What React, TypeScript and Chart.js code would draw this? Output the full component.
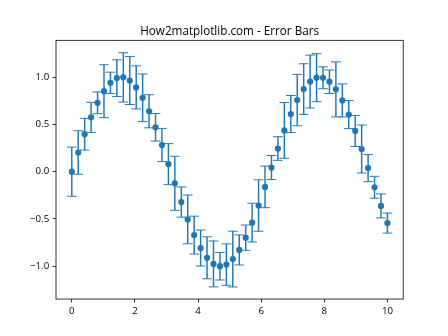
import React, { useEffect, useRef } from "react";
import { Chart, registerables } from "chart.js";

Chart.register(...registerables);

const titleText = "How2matplotlib.com - Error Bars";

const xValues = [
  0, 0.2041, 0.4082, 0.6122, 0.8163, 1.0204, 1.2245, 1.4286, 1.6327, 1.8367,
  2.0408, 2.2449, 2.449, 2.6531, 2.8571, 3.0612, 3.2653, 3.4694, 3.6735, 3.8776,
  4.0816, 4.2857, 4.4898, 4.6939, 4.898, 5.102, 5.3061, 5.5102, 5.7143, 5.9184,
  6.1224, 6.3265, 6.5306, 6.7347, 6.9388, 7.1429, 7.3469, 7.551, 7.7551, 7.9592,
  8.1633, 8.3673, 8.5714, 8.7755, 8.9796, 9.1837, 9.3878, 9.5918, 9.7959, 10,
];

const yValues = [
  0, 0.203, 0.397, 0.575, 0.729, 0.852, 0.94, 0.99, 0.998, 0.965,
  0.892, 0.782, 0.639, 0.47, 0.282, 0.08, -0.123, -0.321, -0.505, -0.671,
  -0.808, -0.911, -0.976, -1.0, -0.983, -0.925, -0.828, -0.698, -0.539, -0.358,
  -0.161, 0.044, 0.245, 0.437, 0.61, 0.758, 0.874, 0.954, 0.995, 0.994,
  0.952, 0.871, 0.754, 0.604, 0.431, 0.24, 0.038, -0.165, -0.362, -0.544,
];

const yErrors = [
  0.26, 0.23, 0.168, 0.159, 0.115, 0.28, 0.113, 0.194, 0.261, 0.254,
  0.228, 0.252, 0.175, 0.146, 0.176, 0.217, 0.286, 0.16, 0.258, 0.2,
  0.19, 0.222, 0.243, 0.146, 0.219, 0.295, 0.159, 0.134, 0.205, 0.272,
  0.22, 0.127, 0.125, 0.295, 0.196, 0.272, 0.268, 0.28, 0.254, 0.116,
  0.125, 0.291, 0.175, 0.148, 0.164, 0.254, 0.143, 0.116, 0.127, 0.106,
];

const xTicks = [0, 2, 4, 6, 8, 10];
const yTicks = [-1.0, -0.5, 0.0, 0.5, 1.0];

const COLOR = "#1f77b4";
const FONT = '"Open Sans", "DejaVu Sans", sans-serif';

const errorBarPlugin = {
  id: "errorBars",
  beforeDatasetsDraw(chart: any) {
    const { ctx, chartArea, scales } = chart;
    const xs = scales.x;
    const ys = scales.y;
    ctx.save();
    ctx.beginPath();
    ctx.rect(chartArea.left, chartArea.top, chartArea.right - chartArea.left, chartArea.bottom - chartArea.top);
    ctx.clip();
    ctx.strokeStyle = COLOR;
    for (let i = 0; i < xValues.length; i++) {
      const px = xs.getPixelForValue(xValues[i]);
      const pTop = ys.getPixelForValue(yValues[i] + yErrors[i]);
      const pBot = ys.getPixelForValue(yValues[i] - yErrors[i]);
      ctx.lineWidth = 1.46;
      ctx.beginPath();
      ctx.moveTo(px, pTop);
      ctx.lineTo(px, pBot);
      ctx.stroke();
      ctx.lineWidth = 0.97;
      ctx.beginPath();
      ctx.moveTo(px - 4.86, pTop);
      ctx.lineTo(px + 4.86, pTop);
      ctx.moveTo(px - 4.86, pBot);
      ctx.lineTo(px + 4.86, pBot);
      ctx.stroke();
    }
    ctx.restore();
  },
  afterDraw(chart: any) {
    const { ctx, chartArea } = chart;
    ctx.save();
    ctx.strokeStyle = "#000";
    ctx.lineWidth = 0.8;
    ctx.strokeRect(chartArea.left, chartArea.top, chartArea.right - chartArea.left, chartArea.bottom - chartArea.top);
    ctx.fillStyle = "#000";
    ctx.font = `11.7px ${FONT}`;
    ctx.textAlign = "center";
    ctx.textBaseline = "alphabetic";
    ctx.fillText(titleText, (chartArea.left + chartArea.right) / 2, 34.5);
    ctx.restore();
  },
};

export default function App() {
  const canvasRef = useRef<HTMLCanvasElement | null>(null);

  useEffect(() => {
    const canvas = canvasRef.current;
    if (!canvas) return;
    const chart = new Chart(canvas, {
      type: "scatter",
      data: {
        datasets: [
          {
            data: xValues.map((x, i) => ({ x, y: yValues[i] })),
            backgroundColor: COLOR,
            borderColor: COLOR,
            borderWidth: 0,
            pointRadius: 3.1,
            showLine: false,
          },
        ],
      },
      options: {
        animation: false,
        responsive: false,
        devicePixelRatio: 1,
        layout: { padding: { top: 40.32, right: 44.8, left: 0, bottom: 0 } },
        plugins: {
          legend: { display: false },
          tooltip: { enabled: false },
          title: { display: false },
        },
        scales: {
          x: {
            type: "linear",
            min: -0.5,
            max: 10.5,
            afterFit: (s: any) => {
              s.height = 36.96;
            },
            afterBuildTicks: (s: any) => {
              s.ticks = xTicks.map((v) => ({ value: v }));
            },
            border: { display: false },
            grid: {
              display: true,
              drawOnChartArea: false,
              drawTicks: true,
              tickLength: 3.4,
              tickWidth: 0.8,
              tickColor: "#000",
            },
            ticks: {
              color: "#000",
              padding: 2.5,
              maxRotation: 0,
              font: { family: FONT, size: 9.7 },
              callback: (v: any) => String(v),
            },
          },
          y: {
            type: "linear",
            min: -1.3475,
            max: 1.39,
            afterFit: (s: any) => {
              s.width = 56;
            },
            afterBuildTicks: (s: any) => {
              s.ticks = yTicks.map((v) => ({ value: v }));
            },
            border: { display: false },
            grid: {
              display: true,
              drawOnChartArea: false,
              drawTicks: true,
              tickLength: 3.4,
              tickWidth: 0.8,
              tickColor: "#000",
            },
            ticks: {
              color: "#000",
              padding: 3.4,
              font: { family: FONT, size: 9.7 },
              callback: (v: any) => {
                const n = Number(v);
                const s = Math.abs(n).toFixed(1);
                return n < 0 ? "\u2212" + s : s;
              },
            },
          },
        },
      },
      plugins: [errorBarPlugin],
    });
    return () => chart.destroy();
  }, []);

  return (
    <div style={{ position: "fixed", left: 0, top: 0, width: 448, height: 336, background: "#fff" }}>
      <canvas ref={canvasRef} width={448} height={336} style={{ display: "block" }} />
    </div>
  );
}
